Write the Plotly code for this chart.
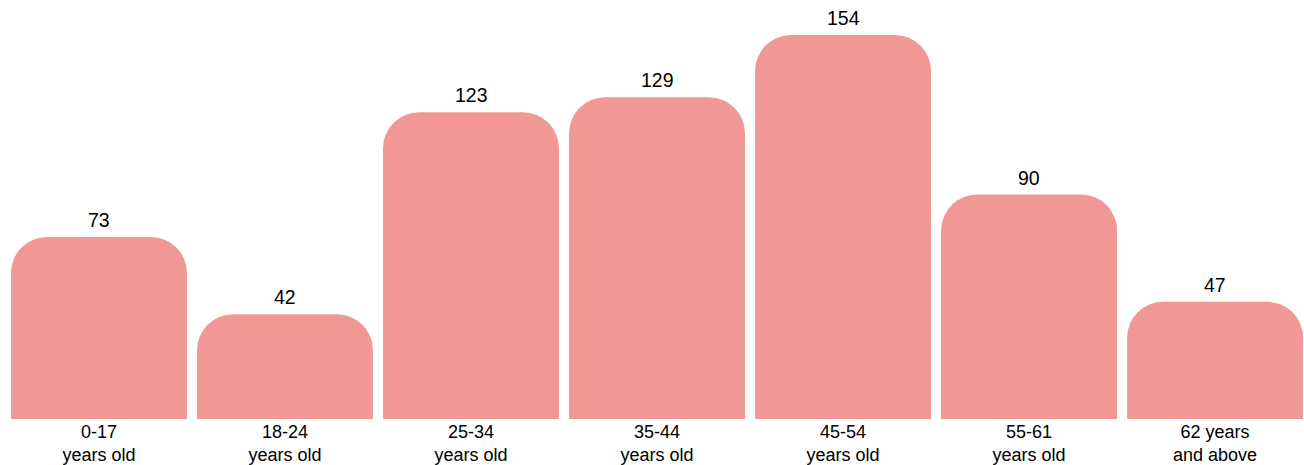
import plotly.graph_objects as go

# Age groups and counts
categories = ["0-17", "18-24", "25-34", "35-44", "45-54", "55-61", "62 years"]
sublabels = ["years old", "years old", "years old", "years old", "years old", "years old", "and above"]
counts = [73, 42, 123, 129, 154, 90, 47]

tick_text = [f"{c}<br>{s}" for c, s in zip(categories, sublabels)]
x_pos = list(range(len(counts)))
FONT = "Arial, Liberation Sans, sans-serif"

fig = go.Figure(
    go.Bar(
        x=x_pos,
        y=counts,
        width=0.946,
        marker=dict(color="#F19896", cornerradius=36, line=dict(width=0)),
        cliponaxis=False,
        hoverinfo="skip",
    )
)

# Value labels above each bar
for xi, v in zip(x_pos, counts):
    fig.add_annotation(
        x=xi,
        y=v,
        text=str(v),
        showarrow=False,
        xanchor="center",
        yanchor="bottom",
        yshift=4,
        font=dict(family=FONT, size=19.5, color="#000000"),
    )

fig.update_layout(
    width=1304,
    height=465,
    margin=dict(l=0, r=0, t=0, b=46),
    paper_bgcolor="white",
    plot_bgcolor="white",
    showlegend=False,
    font=dict(family=FONT, size=18, color="#000000"),
)

fig.update_xaxes(
    range=[-0.532, 6.478],
    tickmode="array",
    tickvals=x_pos,
    ticktext=tick_text,
    showgrid=False,
    zeroline=False,
    showline=False,
    ticks="",
    ticklabelstandoff=0,
    automargin=False,
    tickfont=dict(size=18),
)
fig.update_yaxes(
    range=[0, 168.0],
    visible=False,
    showgrid=False,
    zeroline=False,
    automargin=False,
)

fig.write_html("out.html")
